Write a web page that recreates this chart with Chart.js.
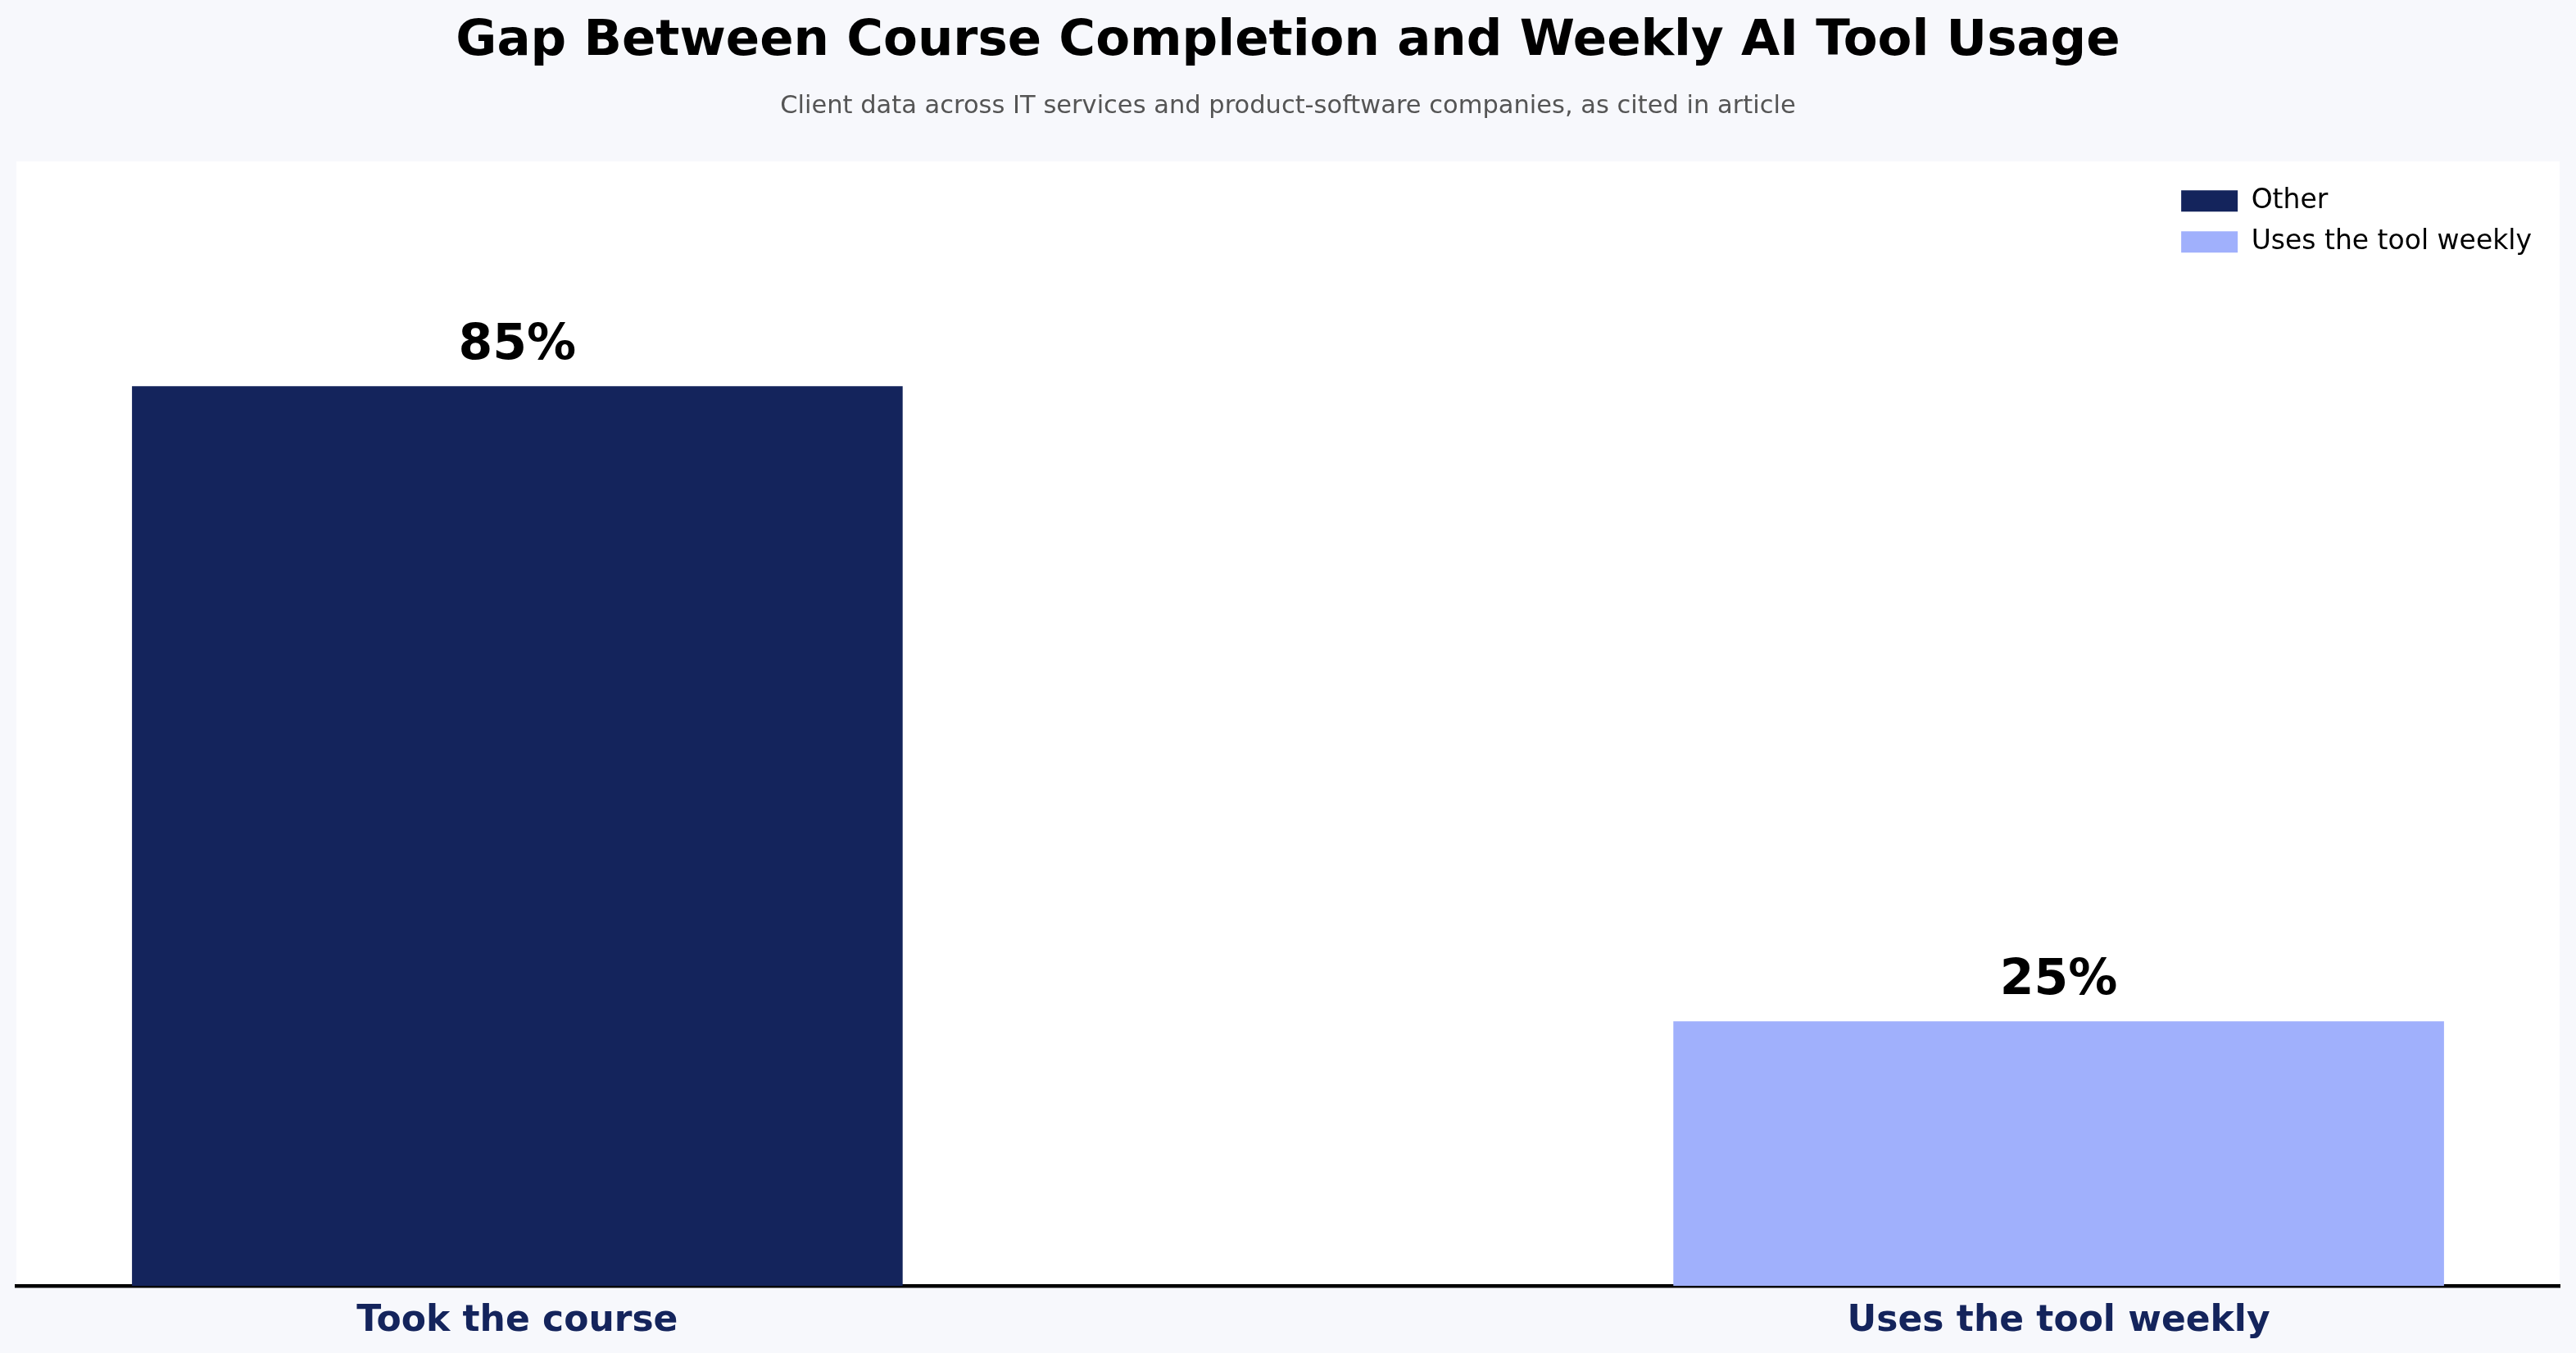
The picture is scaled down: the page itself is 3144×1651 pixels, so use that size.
<!DOCTYPE html>
<html>
<head>
<meta charset="utf-8">
<script src="https://cdn.jsdelivr.net/npm/chart.js@4.4.1/dist/chart.umd.min.js"></script>
<style>
  html, body { margin: 0; padding: 0; background: #f7f8fc; }
  #wrap { width: 3144px; height: 1651px; position: relative; }
</style>
</head>
<body>
<div id="wrap"><canvas id="c"></canvas></div>
<script>
// ---- data ----
const categories = ['Took the course', 'Uses the tool weekly'];
const values = [85, 25];
const seriesNames = ['Other', 'Uses the tool weekly'];
const valueLabels = ['85%', '25%'];
const barColors = ['#14245c', '#a0b0fc'];
const titleText = 'Gap Between Course Completion and Weekly AI Tool Usage';
const subtitleText = 'Client data across IT services and product-software companies, as cited in article';

const FONT = "'DejaVu Sans', 'Liberation Sans', sans-serif";

const datasets = seriesNames.map((name, i) => ({
  label: name,
  data: [{ x: i, y: values[i] }],
  backgroundColor: barColors[i],
  borderWidth: 0,
  grouped: false,
  barPercentage: 0.5,
  categoryPercentage: 1.0
}));

const plotBg = {
  id: 'plotBg',
  beforeDraw(chart) {
    const { ctx, chartArea: a } = chart;
    ctx.save();
    ctx.fillStyle = '#ffffff';
    ctx.fillRect(a.left, a.top, a.right - a.left, a.bottom - a.top);
    ctx.restore();
  }
};

const legendPlace = {
  id: 'legendPlace',
  afterLayout(chart) {
    const lg = chart.legend;
    if (!lg) return;
    const pad = lg.options.labels.padding;
    const colW = (lg.columnSizes && lg.columnSizes[0]) ? lg.columnSizes[0].width : 450;
    lg.left = chart.chartArea.right - 34 - colW - pad;
    lg.top = chart.chartArea.top + 15;
  }
};

const valueLabelPlugin = {
  id: 'valueLabels',
  afterDatasetsDraw(chart) {
    const { ctx } = chart;
    ctx.save();
    ctx.font = `bold 60px ${FONT}`;
    ctx.fillStyle = '#000000';
    ctx.textAlign = 'center';
    ctx.textBaseline = 'alphabetic';
    chart.data.datasets.forEach((ds, di) => {
      const meta = chart.getDatasetMeta(di);
      meta.data.forEach((bar) => {
        ctx.fillText(valueLabels[di], bar.x, bar.y - 33);
      });
    });
    ctx.restore();
  }
};

new Chart(document.getElementById('c'), {
  type: 'bar',
  data: { datasets },
  plugins: [plotBg, legendPlace, valueLabelPlugin],
  options: {
    responsive: true,
    maintainAspectRatio: false,
    devicePixelRatio: 1,
    animation: false,
    layout: { padding: { left: 20, right: 20, top: 0, bottom: -5 } },
    scales: {
      x: {
        type: 'linear',
        min: -0.325,
        max: 1.325,
        offset: false,
        grid: { display: false, offset: false, drawTicks: false },
        border: { display: true, color: '#000000', width: 4.5 },
        afterBuildTicks(scale) {
          scale.ticks = categories.map((_, i) => ({ value: i }));
        },
        ticks: {
          padding: 17,
          color: '#14245c',
          font: { family: FONT, size: 44, weight: 'bold' },
          callback: (v) => categories[v] !== undefined ? categories[v] : ''
        }
      },
      y: {
        min: 0,
        max: 106.25,
        display: false
      }
    },
    plugins: {
      title: {
        display: true,
        text: titleText,
        color: '#000000',
        font: { family: FONT, size: 61, weight: 'bold', lineHeight: 1.2 },
        padding: { top: 15, bottom: 24 }
      },
      subtitle: {
        display: true,
        text: subtitleText,
        color: '#555555',
        font: { family: FONT, size: 30.5, weight: 'normal', lineHeight: 1.2 },
        padding: { top: 0, bottom: 48 }
      },
      legend: {
        position: 'chartArea',
        align: 'start',
        labels: {
          boxWidth: 69,
          boxHeight: 26,
          padding: 17,
          color: '#000000',
          font: { family: FONT, size: 33 }
        }
      },
      tooltip: { enabled: false }
    }
  }
});
</script>
</body>
</html>
